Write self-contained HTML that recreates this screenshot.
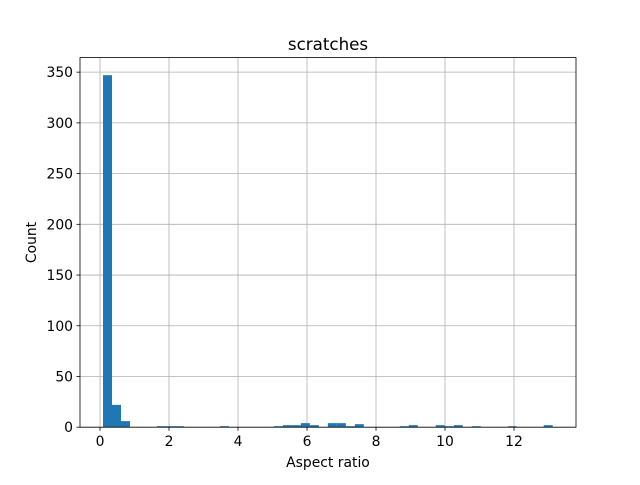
<!DOCTYPE html>
<html><head><meta charset="utf-8"><style>
body{margin:0;background:#fff;}
svg text{font-family:"DejaVu Sans","Liberation Sans",sans-serif;fill:#000;}
</style></head><body>
<svg id="chart" width="640" height="480" xmlns="http://www.w3.org/2000/svg">
<rect width="640" height="480" fill="#fff"/>
<g id="grid"></g><g id="bars"></g><g id="axes"></g>
<text x="328" y="50" font-size="16.7" text-anchor="middle">scratches</text>
<text x="328" y="467" font-size="13.9" text-anchor="middle">Aspect ratio</text>
<text transform="translate(36,242.5) rotate(-90)" font-size="13.9" text-anchor="middle">Count</text>
</svg>
<script>
const counts=[347,22,6,0,0,0,1,1,1,0,0,0,0,1,0,0,0,0,0,1,2,2,4,2,0,4,4,1,3,0,0,0,0,1,2,0,0,2,1,2,0,1,0,0,0,1,0,0,0,2];
const binStart=0.087;
const binWidth=0.2607;
const xTicks=[0,2,4,6,8,10,12];
const yTicks=[0,50,100,150,200,250,300,350];
const L=80,R=576,T=57.6,B=427.2;
const xmin=-0.58,xmax=13.797,ymax=364.35;
const X=v=>L+(v-xmin)/(xmax-xmin)*(R-L);
const Y=v=>B-v/ymax*(B-T);
const NS="http://www.w3.org/2000/svg";
function mk(tag,attrs,parent){const e=document.createElementNS(NS,tag);for(const k in attrs)e.setAttribute(k,attrs[k]);document.getElementById(parent).appendChild(e);return e;}
xTicks.forEach(t=>{
 const g=mk('line',{x1:X(t),x2:X(t),y1:T,y2:B,stroke:'#b0b0b0','stroke-width':0.8},'grid');
 
 
 const tk=mk('line',{x1:X(t),x2:X(t),y1:B,y2:B+3.5,stroke:'#000','stroke-width':0.8},'axes');
 
 
 const tx=mk('text',{x:X(t),y:B+19,'font-size':13.9,'text-anchor':'middle'},'axes');
 tx.textContent=t;
 
 
});
yTicks.forEach(t=>{
 const g=mk('line',{x1:L,x2:R,y1:Y(t),y2:Y(t),stroke:'#b0b0b0','stroke-width':0.8},'grid');
 
 
 const tk=mk('line',{x1:L-3.5,x2:L,y1:Y(t),y2:Y(t),stroke:'#000','stroke-width':0.8},'axes');
 
 
 const tx=mk('text',{x:L-7,y:Y(t)+5,'font-size':13.9,'text-anchor':'end'},'axes');
 tx.textContent=t;
 
 
});
counts.forEach((c,i)=>{
 if(c<=0)return;
 const x0=X(binStart+i*binWidth),x1=X(binStart+(i+1)*binWidth);
 const r=mk('rect',{x:x0,y:Y(c),width:x1-x0,height:B-Y(c),fill:'#1f77b4'},'bars');
 
 
});
const f=mk('rect',{x:L,y:T,width:R-L,height:B-T,fill:'none',stroke:'#000','stroke-width':0.8},'axes');


</script>
</body></html>
